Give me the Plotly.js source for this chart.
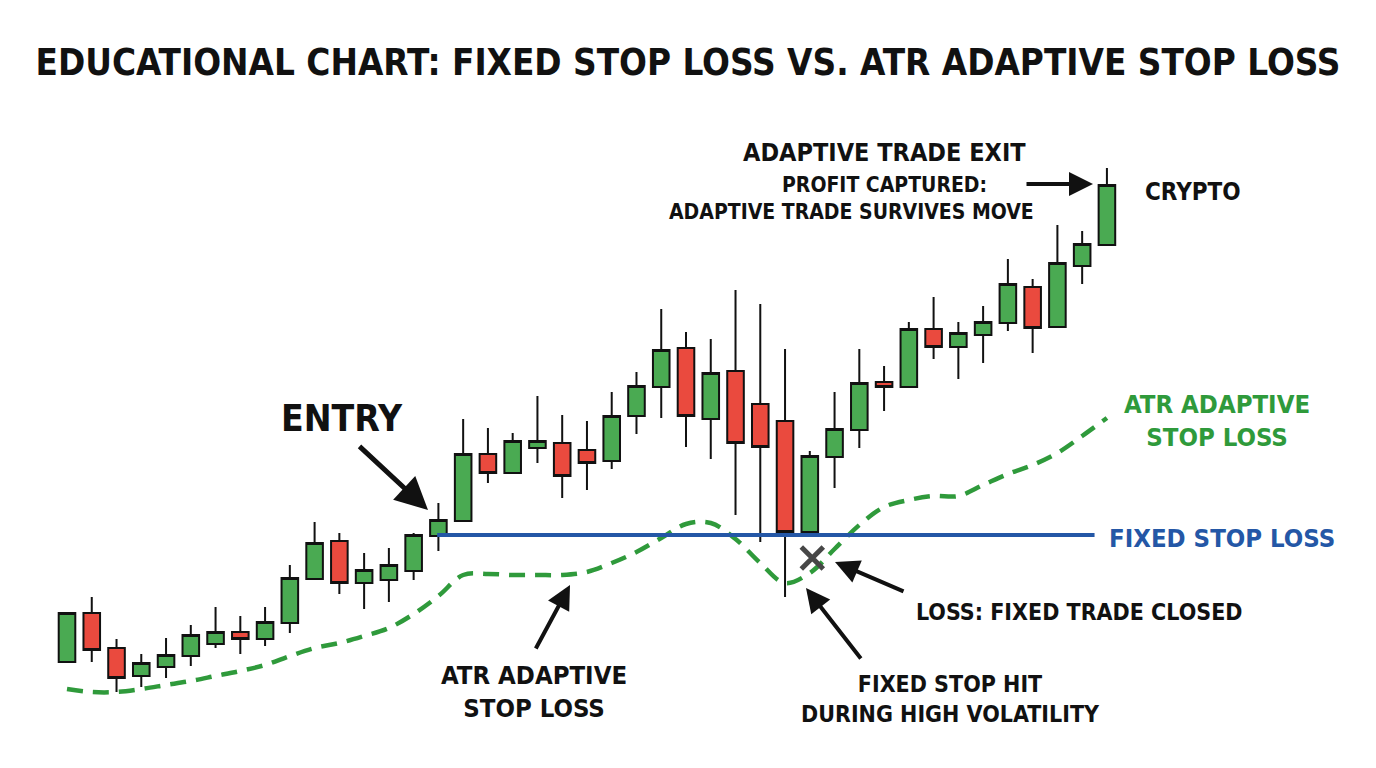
<!DOCTYPE html>
<html>
<head>
<meta charset="utf-8">
<script src="https://cdn.plot.ly/plotly-3.0.1.min.js"></script>
<style>
html,body{margin:0;padding:0;background:#fff;}
#chart{width:1376px;height:768px;}
</style>
</head>
<body>
<div id="chart"></div>
<script>
// ---- Data (price units) ----
const opens  = [33.8,38.7,35.2,32.4,33.3,34.4,35.6,36.8,36.1,37.7,42.1,45.9,41.7,42.0,42.9,46.4,47.9,54.6,52.7,55.2,55.7,55.0,53.9,58.4,61.3,65.2,58.1,62.9,59.6,57.9,46.8,54.3,57.0,61.8,61.3,67.1,65.3,66.5,67.7,71.3,67.3,73.4,75.5];
const highs  = [38.7,40.3,36.1,34.6,36.2,37.5,39.3,38.4,39.3,43.5,47.8,46.7,44.7,45.2,46.7,49.7,58.1,57.2,56.7,60.4,58.5,57.9,60.8,62.8,69.1,66.8,66.1,71.0,69.6,65.1,54.9,60.8,65.1,63.4,67.8,70.3,67.8,69.4,74.1,72.1,77.5,76.9,83.2];
const lows   = [33.8,33.8,30.8,31.3,32.2,33.4,35.2,34.6,35.4,36.7,42.0,40.6,39.1,39.8,42.0,44.9,47.9,51.7,52.7,53.7,50.2,51.0,53.1,56.6,58.2,55.3,54.1,48.5,45.8,40.3,46.8,51.2,55.2,58.9,61.3,64.1,62.1,63.7,66.9,64.7,67.3,71.6,75.5];
const closes = [38.7,35.0,32.2,33.7,34.5,36.5,36.8,36.1,37.8,42.2,45.7,41.7,43.0,43.5,46.5,48.0,54.6,52.7,55.9,55.9,52.4,53.7,58.4,61.4,65.0,58.4,62.7,55.7,55.3,46.8,54.4,57.1,61.7,61.3,67.1,65.3,66.7,67.8,71.6,67.2,73.7,75.6,81.5];
const atrStop = [31.1,30.8,30.8,31.1,31.5,31.9,32.4,32.9,33.5,34.4,35.2,35.7,36.4,37.2,38.6,40.4,42.5,42.6,42.5,42.5,42.5,42.8,43.7,44.8,46.2,47.6,47.7,46.1,43.7,41.7,42.7,45.1,47.5,49.3,50.0,50.4,50.4,51.5,52.6,53.5,54.7,56.4,58.2];
const fixedStopLevel = 46.5;
const entryBar = 15;
const fixedStopEndBar = 41.5;
const stopHit = {bar: 30.1, price: 44.2};

const bars = opens.map((_, i) => i);

// ---- Layout helpers (pixel -> paper) ----
const W = 1376, H = 768, MT = 100, MB = 28;
const PH = H - MT - MB;
const px = x => x / W;
const py = y => (H - MB - y) / PH;

const narrow = 'Liberation Sans Narrow, DejaVu Sans Condensed, Roboto, sans-serif';
const BLACK = '#111111';
const GREEN = '#2f9a3b';
const BLUE = '#2457a6';

function label(text, x, y, size, color) {
  return {xref:'paper', yref:'paper', x:px(x), y:py(y), xanchor:'center', yanchor:'middle',
    text:text, showarrow:false, align:'center',
    font:{family:narrow, size:size, color:color || BLACK, weight:'bold'}};
}
function arrow(tx, ty, fx, fy, w, s) {
  return {xref:'paper', yref:'paper', x:px(tx), y:py(ty), ax:fx - tx, ay:fy - ty,
    axref:'pixel', ayref:'pixel', text:'', showarrow:true, arrowhead:2,
    arrowsize:s || 1.2, arrowwidth:w || 4, arrowcolor:BLACK, standoff:0, startstandoff:0};
}

const traces = [
  {
    type:'scatter', mode:'lines', x:bars, y:atrStop,
    line:{color:GREEN, width:4.5, dash:'16px,10px', shape:'spline', smoothing:1},
    hoverinfo:'skip'
  },
  {
    type:'scatter', mode:'lines', x:[entryBar - 0.05, fixedStopEndBar], y:[fixedStopLevel, fixedStopLevel],
    line:{color:BLUE, width:4}, hoverinfo:'skip'
  },
  {
    type:'candlestick', x:bars, open:opens, high:highs, low:lows, close:closes,
    increasing:{line:{color:BLACK, width:2}, fillcolor:'#4aaa52'},
    decreasing:{line:{color:BLACK, width:2}, fillcolor:'#ea4a3e'},
    whiskerwidth:0, hoverinfo:'skip'
  },
  {
    type:'scatter', mode:'markers', x:[stopHit.bar], y:[stopHit.price],
    marker:{symbol:'x-thin', size:22, line:{width:5, color:'#474747'}}, hoverinfo:'skip'
  }
];

const layout = {
  width:W, height:H,
  margin:{l:0, r:0, t:MT, b:MB},
  paper_bgcolor:'#ffffff', plot_bgcolor:'#ffffff',
  showlegend:false,
  boxgap:0.33, boxgroupgap:0,
  title:{
    text:'EDUCATIONAL CHART: FIXED STOP LOSS VS. ATR ADAPTIVE STOP LOSS',
    x:0.5, xanchor:'center', y:1 - 62 / H, yanchor:'middle', yref:'container',
    font:{family:'DejaVu Sans Condensed, DejaVu Sans, sans-serif', size:36.5, color:BLACK, weight:'bold'}
  },
  xaxis:{range:[-67 / 24.76, (W - 67) / 24.76], visible:false, rangeslider:{visible:false}, fixedrange:true},
  yaxis:{range:[26, 90], visible:false, fixedrange:true},
  annotations:[
    label('ENTRY', 342, 418, 37),
    arrow(428, 510, 358, 445, 5, 1.3),
    label('ADAPTIVE TRADE EXIT', 884, 152, 25),
    label('PROFIT CAPTURED:', 884, 185, 21),
    label('ADAPTIVE TRADE SURVIVES MOVE', 851, 212, 21),
    arrow(1093, 184, 1025, 184, 4, 1.2),
    label('CRYPTO', 1193, 192, 24),
    label('ATR ADAPTIVE<br>STOP LOSS', 1217, 420, 25.5, GREEN),
    label('FIXED STOP LOSS', 1222, 538, 25.5, BLUE),
    label('ATR ADAPTIVE<br>STOP LOSS', 534, 691, 25.5),
    arrow(570, 585, 535, 650, 4, 1.2),
    label('LOSS: FIXED TRADE CLOSED', 1079, 612, 23),
    arrow(835, 562, 905, 592, 4, 1.2),
    label('FIXED STOP HIT<br>DURING HIGH VOLATILITY', 951, 699, 23),
    arrow(806, 588, 862, 660, 4, 1.2)
  ]
};

Plotly.newPlot('chart', traces, layout, {staticPlot:true, displayModeBar:false});
</script>
</body>
</html>
